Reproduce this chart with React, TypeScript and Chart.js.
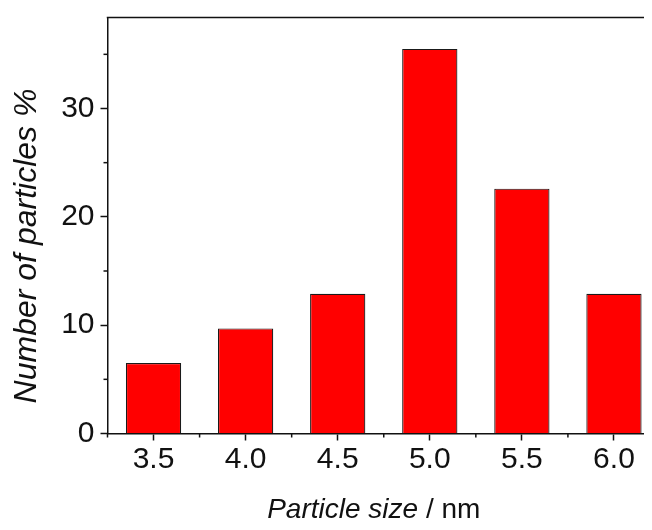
import React, { useEffect, useRef } from 'react';
import { Chart, registerables } from 'chart.js';

Chart.register(...registerables);

const sizes: string[] = ['3.5', '4.0', '4.5', '5.0', '5.5', '6.0'];
const percents: number[] = [6.5, 9.7, 12.9, 35.5, 22.6, 12.9];
const yMin = 0;
const yMax = 38.4;
const yMajorStep = 10;
const yMinorStep = 5;
const xTitleItalic = 'Particle size';
const xTitleUnit = ' / nm';
const yTitle = 'Number of particles %';

const FONT = '"Liberation Sans", Arial, Helvetica, sans-serif';
const INK = '#111111';

const decor = {
  id: 'decor',
  afterDraw(chart: any) {
    const { ctx, chartArea, scales } = chart;
    const { left, right, top, bottom } = chartArea;
    const x = scales.x;
    const y = scales.y;
    ctx.save();
    ctx.strokeStyle = INK;
    ctx.lineWidth = 1.5;
    const seg = (x1: number, y1: number, x2: number, y2: number) => {
      ctx.beginPath();
      ctx.moveTo(x1, y1);
      ctx.lineTo(x2, y2);
      ctx.stroke();
    };
    // top frame line
    seg(left - 0.75, top, right, top);
    // minor y ticks
    for (let v = yMinorStep; v < yMax; v += yMajorStep) {
      const py = y.getPixelForValue(v);
      seg(left - 4, py, left, py);
    }
    // minor x ticks at category boundaries
    for (let i = 0; i <= sizes.length; i++) {
      const px = x.getPixelForValue(i - 0.5);
      seg(px, bottom, px, bottom + 4);
    }
    // x title (mixed italic / upright)
    ctx.fillStyle = INK;
    ctx.textBaseline = 'alphabetic';
    ctx.textAlign = 'left';
    const italicFont = `italic 28px ${FONT}`;
    const uprightFont = `28px ${FONT}`;
    ctx.font = italicFont;
    const w1 = ctx.measureText(xTitleItalic).width;
    ctx.font = uprightFont;
    const w2 = ctx.measureText(xTitleUnit).width;
    const cx = (left + right) / 2 - 10;
    const startX = cx - (w1 + w2) / 2;
    const baseY = bottom + 84.5;
    ctx.font = italicFont;
    ctx.fillText(xTitleItalic, startX, baseY);
    ctx.font = uprightFont;
    ctx.fillText(xTitleUnit, startX + w1, baseY);
    // y title
    ctx.save();
    ctx.translate(19.5, (top + bottom) / 2 + 20.5);
    ctx.rotate(-Math.PI / 2);
    ctx.textAlign = 'center';
    ctx.textBaseline = 'middle';
    ctx.font = `italic 32px ${FONT}`;
    ctx.fillText(yTitle, 0, 0);
    ctx.restore();
    ctx.restore();
  },
};

export default function App() {
  const ref = useRef<HTMLCanvasElement | null>(null);
  useEffect(() => {
    if (!ref.current) return;
    const chart = new Chart(ref.current, {
      type: 'bar',
      data: {
        labels: sizes,
        datasets: [
          {
            data: percents,
            backgroundColor: '#ff0000',
            borderColor: '#1a1a1a',
            borderWidth: 1.2,
            barPercentage: 0.6,
            categoryPercentage: 1,
          },
        ],
      },
      options: {
        responsive: false,
        animation: false,
        layout: { padding: { top: 9.5, right: 8, left: 0, bottom: 0 } },
        plugins: {
          legend: { display: false },
          tooltip: { enabled: false },
        },
        scales: {
          x: {
            offset: true,
            grid: {
              display: true,
              drawOnChartArea: false,
              drawTicks: true,
              tickLength: 7,
              tickWidth: 1.5,
              tickColor: INK,
              offset: false,
            },
            border: { display: true, color: INK, width: 1.5 },
            ticks: {
              color: INK,
              font: { family: FONT, size: 30 },
              padding: 1,
              maxRotation: 0,
            },
            afterFit: (s: any) => {
              s.height = 96.5;
              s.paddingLeft = 0;
              s.paddingRight = 0;
            },
          },
          y: {
            min: yMin,
            max: yMax,
            grid: {
              display: true,
              drawOnChartArea: false,
              drawTicks: true,
              tickLength: 7,
              tickWidth: 1.5,
              tickColor: INK,
            },
            border: { display: true, color: INK, width: 1.5 },
            ticks: {
              stepSize: yMajorStep,
              color: INK,
              font: { family: FONT, size: 30 },
              padding: 6,
            },
            afterBuildTicks: (s: any) => {
              s.ticks = s.ticks.filter((t: any) => t.value % yMajorStep === 0);
            },
            afterFit: (s: any) => {
              s.width = 99.5;
              s.paddingTop = 0;
              s.paddingBottom = 0;
            },
          },
        },
      },
      plugins: [decor],
    });
    return () => chart.destroy();
  }, []);
  return (
    <div style={{ width: 644, height: 522, overflow: 'hidden' }}>
      <canvas ref={ref} width={660} height={522} style={{ display: 'block' }} />
    </div>
  );
}
